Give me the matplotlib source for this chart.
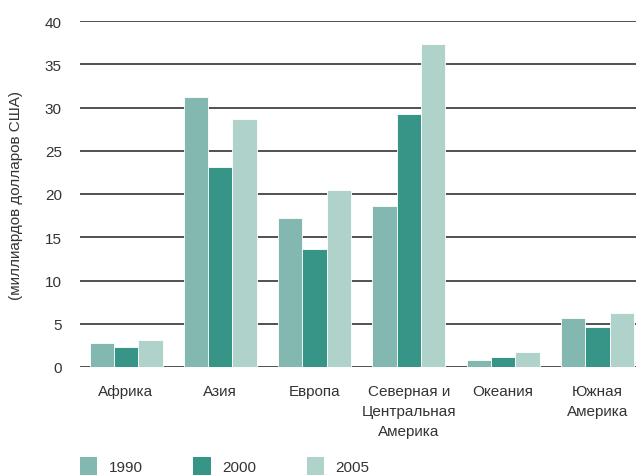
import numpy as np
import matplotlib
matplotlib.use("Agg")
import matplotlib.pyplot as plt
from matplotlib.patches import Patch

plt.rcParams['font.family'] = ['Liberation Sans', 'DejaVu Sans']

regions = ['Африка', 'Азия', 'Европа', 'Северная и\nЦентральная\nАмерика',
           'Океания', 'Южная\nАмерика']
years = ['1990', '2000', '2005']
v1990 = [2.8, 31.2, 17.2, 18.6, 0.8, 5.7]
v2000 = [2.3, 23.1, 13.6, 29.2, 1.1, 4.6]
v2005 = [3.1, 28.7, 20.5, 37.3, 1.7, 6.3]
colors = ['#82b8b0', '#379587', '#afd2cb']

fig = plt.figure(figsize=(6.36, 4.77), dpi=100)
ax = fig.add_axes([80 / 636, 109 / 477, 556 / 636, 346 / 477])

x = np.arange(len(regions))
w = 0.258
for i, (vals, c) in enumerate(zip([v1990, v2000, v2005], colors)):
    ax.bar(x + (i - 1) * w, vals, width=w, color=c, edgecolor='white',
           linewidth=0.6, zorder=3)

ax.set_ylim(0, 40)
ax.set_xlim(-0.488, 5.408)
ax.set_yticks(range(0, 41, 5))
ax.yaxis.grid(True, color='#222222', linewidth=1.1, zorder=0)
ax.set_axisbelow(True)
for s in ax.spines.values():
    s.set_visible(False)
fs = 11
ax.tick_params(axis='both', length=0, labelsize=fs, colors='#333333')
ax.tick_params(axis='y', pad=13)
ax.tick_params(axis='x', pad=12)
ax.set_xticks(x)
ax.set_xticklabels(regions, linespacing=1.55)
ax.set_ylabel('(миллиардов долларов США)', fontsize=fs, color='#333333',
              labelpad=16)

handles = [Patch(facecolor=c, edgecolor='none') for c in colors]
fig.legend(handles, years, loc='lower left', bbox_to_anchor=(66 / 636, -0.027),
           ncol=3, frameon=False, fontsize=fs, handlelength=1.15,
           handleheight=1.4, handletextpad=0.75, columnspacing=3.3,
           labelcolor='#333333')

fig.savefig('out.png', dpi=100)
